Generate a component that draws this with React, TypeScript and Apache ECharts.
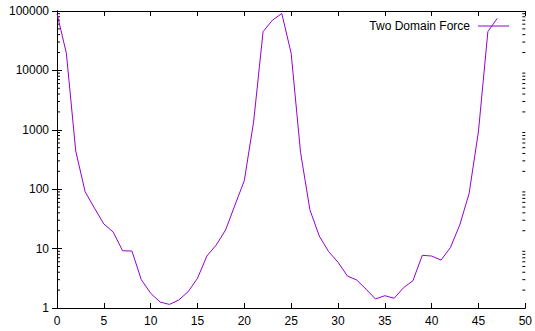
import React, { useEffect, useRef } from "react";
import * as echarts from "echarts";

const seriesName = "Two Domain Force";
const xValues = [
  0, 1, 2, 3, 4, 5, 6, 7, 8, 9, 10, 11, 12, 13, 14, 15, 16, 17, 18, 19, 20, 21, 22, 23,
  24, 25, 26, 27, 28, 29, 30, 31, 32, 33, 34, 35, 36, 37, 38, 39, 40, 41, 42, 43, 44, 45, 46, 47,
];
const forceValues = [
  90000, 19500, 440, 91, 48, 26, 19, 9.2, 9.1, 3.0, 1.77, 1.26, 1.15, 1.36, 1.88, 3.16, 7.5, 11.5,
  20.6, 54, 140, 1400, 45000, 70000, 91000, 19400, 420, 45, 16.3, 8.9, 5.9, 3.46, 2.96, 2.07, 1.42,
  1.61, 1.46, 2.2, 2.88, 7.7, 7.5, 6.4, 10.4, 25, 85, 950, 45000, 75000,
];
const xTicks = { min: 0, max: 50, interval: 5 };
const yRange = { min: 1, max: 100000 };
const minorMultipliers = [2, 3, 4, 5, 6, 7, 8, 9];

const FONT = "'Liberation Sans', Arial, Helvetica, sans-serif";
const LINE_COLOR = "#9400d3";

export default function App() {
  const ref = useRef<HTMLDivElement>(null);
  useEffect(() => {
    if (!ref.current) return;
    const chart = echarts.init(ref.current, null, { renderer: "svg" });
    const data = xValues.map((x, i) => [x, forceValues[i]]);
    const axisLine = { show: true, lineStyle: { color: "#000", width: 1 } };
    const labelStyle = { color: "#000", fontSize: 12, fontFamily: FONT };
    const tick = { show: true, inside: true, length: 5, lineStyle: { color: "#000", width: 1 } };
    chart.setOption({
      animation: false,
      grid: { left: 57, right: 8, top: 11, bottom: 23, show: false },
      legend: {
        right: 21,
        top: 15,
        align: "right",
        icon: "rect",
        itemWidth: 31,
        itemHeight: 1,
        itemGap: 0,
        textStyle: { color: "#000", fontSize: 12, fontFamily: FONT, padding: [0, 3, 0, 0] },
        data: [seriesName],
      },
      xAxis: [
        {
          type: "value",
          position: "bottom",
          ...xTicks,
          axisLine,
          axisTick: tick,
          axisLabel: { ...labelStyle, margin: 7 },
          splitLine: { show: false },
        },
        {
          type: "value",
          position: "top",
          ...xTicks,
          axisLine,
          axisTick: tick,
          axisLabel: { show: false },
          splitLine: { show: false },
        },
      ],
      yAxis: [
        {
          type: "log",
          logBase: 10,
          position: "left",
          ...yRange,
          axisLine,
          axisTick: tick,
          axisLabel: { ...labelStyle, margin: 8, formatter: (v: number) => String(Math.round(v)) },
          splitLine: { show: false },
        },
        {
          type: "log",
          logBase: 10,
          position: "right",
          ...yRange,
          axisLine,
          axisTick: tick,
          axisLabel: { show: false },
          splitLine: { show: false },
        },
      ],
      series: [
        {
          name: seriesName,
          type: "line",
          xAxisIndex: 0,
          yAxisIndex: 0,
          data,
          symbol: "none",
          lineStyle: { color: LINE_COLOR, width: 1 },
          itemStyle: { color: LINE_COLOR },
        },
      ],
    });

    const elements: any[] = [];
    const leftX = chart.convertToPixel({ xAxisIndex: 0 }, xTicks.min) as number;
    const rightX = chart.convertToPixel({ xAxisIndex: 0 }, xTicks.max) as number;
    for (let dec = yRange.min; dec < yRange.max; dec *= 10) {
      for (const m of minorMultipliers) {
        const y = chart.convertToPixel({ yAxisIndex: 0 }, dec * m) as number;
        elements.push({
          type: "line",
          shape: { x1: leftX, y1: y, x2: leftX + 3, y2: y },
          style: { stroke: "#000", lineWidth: 1 },
          silent: true,
        });
        elements.push({
          type: "line",
          shape: { x1: rightX, y1: y, x2: rightX - 3, y2: y },
          style: { stroke: "#000", lineWidth: 1 },
          silent: true,
        });
      }
    }
    chart.setOption({ graphic: { elements } });

    return () => chart.dispose();
  }, []);
  return (
    <div
      ref={ref}
      style={{ position: "absolute", left: 0, top: 0, width: 535, height: 331 }}
    />
  );
}
